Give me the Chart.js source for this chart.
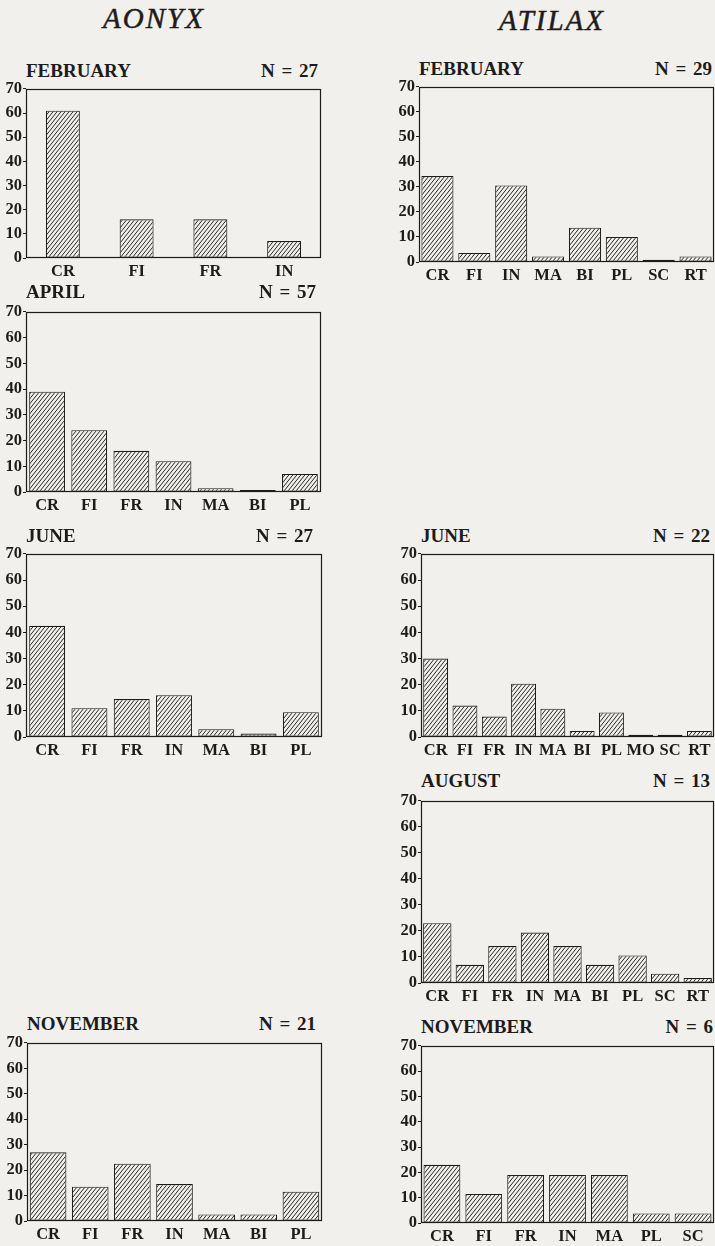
<!DOCTYPE html>
<html>
<head>
<meta charset="utf-8">
<script src="https://cdn.jsdelivr.net/npm/chart.js@4/dist/chart.umd.min.js"></script>
<style>
  html, body { margin: 0; padding: 0; }
  body { width: 715px; height: 1246px; background: #f2f0ec; position: relative; overflow: hidden; }
  .txt { position: absolute; white-space: nowrap; line-height: 1; color: #1d1b1b;
         font-family: "Liberation Serif", "Times New Roman", serif; }
  .genus { -webkit-text-stroke: 0.5px #1d1b1b; }
  canvas { position: absolute; }
</style>
</head>
<body>
<script>
// ---- diet composition (% of items) per month ----
const aonyxFebCategories = ['CR', 'FI', 'FR', 'IN'];
const aonyxFebValues     = [61, 16, 16, 7];

const aonyxAprCategories = ['CR', 'FI', 'FR', 'IN', 'MA', 'BI', 'PL'];
const aonyxAprValues     = [39, 24, 16, 12, 1.5, 0.8, 7];

const aonyxJunCategories = ['CR', 'FI', 'FR', 'IN', 'MA', 'BI', 'PL'];
const aonyxJunValues     = [42.5, 11, 14.5, 16, 3, 1.3, 9.5];

const aonyxNovCategories = ['CR', 'FI', 'FR', 'IN', 'MA', 'BI', 'PL'];
const aonyxNovValues     = [27, 13.5, 22.5, 14.5, 2.6, 2.6, 11.5];

const atilaxFebCategories = ['CR', 'FI', 'IN', 'MA', 'BI', 'PL', 'SC', 'RT'];
const atilaxFebValues     = [34.4, 3.6, 30.6, 2.2, 13.7, 10, 0.9, 2.2];

const atilaxJunCategories = ['CR', 'FI', 'FR', 'IN', 'MA', 'BI', 'PL', 'MO', 'SC', 'RT'];
const atilaxJunValues     = [30, 12, 7.8, 20.4, 10.8, 2.3, 9.4, 0.9, 0.9, 2.3];

const atilaxAugCategories = ['CR', 'FI', 'FR', 'IN', 'MA', 'BI', 'PL', 'SC', 'RT'];
const atilaxAugValues     = [23, 7, 14.2, 19.4, 14.2, 7, 10.6, 3.6, 1.9];

const atilaxNovCategories = ['CR', 'FI', 'FR', 'IN', 'MA', 'PL', 'SC'];
const atilaxNovValues     = [23, 11.5, 19, 19, 19, 3.8, 3.8];

const genusNames = ['AONYX', 'ATILAX'];
const monthNames = ['FEBRUARY', 'APRIL', 'JUNE', 'AUGUST', 'NOVEMBER'];
const sampleSizes = { aonyxFeb: 27, aonyxApr: 57, aonyxJun: 27, aonyxNov: 21,
                      atilaxFeb: 29, atilaxJun: 22, atilaxAug: 13, atilaxNov: 6 };

const yMin = 0, yMax = 70, yStep = 10;

// ---- styling ----
const BG = '#f2f0ec';
const INK = '#1d1b1b';
const SERIF = '"Liberation Serif", "Times New Roman", serif';

// ---- panel placement (plot box edges in page pixels) ----
const panels = [
  { cats: aonyxFebCategories, vals: aonyxFebValues, month: monthNames[0], n: sampleSizes.aonyxFeb,
    L: 26, R: 321, T: 88, B: 258, head: 77, nRight: 318, bar: 0.46 },
  { cats: aonyxAprCategories, vals: aonyxAprValues, month: monthNames[1], n: sampleSizes.aonyxApr,
    L: 26, R: 321, T: 311, B: 492, head: 298, nRight: 316, bar: 0.85 },
  { cats: aonyxJunCategories, vals: aonyxJunValues, month: monthNames[2], n: sampleSizes.aonyxJun,
    L: 26, R: 322, T: 553, B: 737, head: 542, nRight: 313, bar: 0.85 },
  { cats: aonyxNovCategories, vals: aonyxNovValues, month: monthNames[4], n: sampleSizes.aonyxNov,
    L: 27, R: 322, T: 1042, B: 1221, head: 1030, nRight: 316, bar: 0.87 },
  { cats: atilaxFebCategories, vals: atilaxFebValues, month: monthNames[0], n: sampleSizes.atilaxFeb,
    L: 419, R: 714, T: 86, B: 262, head: 75, nRight: 712, bar: 0.87 },
  { cats: atilaxJunCategories, vals: atilaxJunValues, month: monthNames[2], n: sampleSizes.atilaxJun,
    L: 421, R: 714, T: 553, B: 737, head: 542, nRight: 710, bar: 0.85 },
  { cats: atilaxAugCategories, vals: atilaxAugValues, month: monthNames[3], n: sampleSizes.atilaxAug,
    L: 421, R: 714, T: 800, B: 983, head: 787, nRight: 710, bar: 0.87 },
  { cats: atilaxNovCategories, vals: atilaxNovValues, month: monthNames[4], n: sampleSizes.atilaxNov,
    L: 421, R: 714, T: 1045, B: 1223, head: 1033, nRight: 713, bar: 0.88 }
];

// text placed by its baseline
function addText(str, x, baseline, size, opts = {}) {
  const d = document.createElement('div');
  d.className = 'txt' + (opts.cls ? ' ' + opts.cls : '');
  d.textContent = str;
  d.style.fontSize = size + 'px';
  d.style.fontWeight = opts.weight || 'bold';
  if (opts.italic) d.style.fontStyle = 'italic';
  if (opts.spacing) d.style.letterSpacing = opts.spacing + 'px';
  if (opts.wordSpacing) d.style.wordSpacing = opts.wordSpacing + 'px';
  d.style.top = (baseline - 0.8375 * size) + 'px';
  if (opts.align === 'right') {
    d.style.right = (715 - x) + 'px';
  } else if (opts.align === 'center') {
    d.style.left = x + 'px';
    d.style.transform = 'translateX(-50%)';
  } else {
    d.style.left = x + 'px';
  }
  document.body.appendChild(d);
}

addText(genusNames[0], 154, 28, 29, { italic: true, weight: 'normal', spacing: 2, align: 'center', cls: 'genus' });
addText(genusNames[1], 552, 30, 29, { italic: true, weight: 'normal', spacing: 2, align: 'center', cls: 'genus' });

// diagonal hatching used to fill the bars
function makeHatch(ctx) {
  const c = document.createElement('canvas');
  c.width = 4; c.height = 5;
  const g = c.getContext('2d');
  g.fillStyle = BG;
  g.fillRect(0, 0, 4, 5);
  g.strokeStyle = '#262424';
  g.lineWidth = 1;
  g.beginPath();
  g.moveTo(0, 5); g.lineTo(4, 0);
  g.moveTo(-4, 5); g.lineTo(0, 0);
  g.moveTo(4, 5); g.lineTo(8, 0);
  g.stroke();
  return ctx.createPattern(c, 'repeat');
}

// closed box around the plot area
const frameBox = {
  id: 'frameBox',
  afterDraw(chart) {
    const { ctx, chartArea: a } = chart;
    ctx.save();
    ctx.strokeStyle = INK;
    ctx.lineWidth = 1.2;
    ctx.strokeRect(Math.round(a.left) + 0.5, Math.round(a.top) + 0.5,
                   Math.round(a.right - a.left) - 1, Math.round(a.bottom - a.top) - 1);
    ctx.restore();
  }
};

const Y_W = 30, PAD_TOP = 10, X_H = 26;

panels.forEach(p => {
  addText(p.month, p.L, p.head, 19);
  addText('N = ' + p.n, p.nRight, p.head, 19, { align: 'right', wordSpacing: 2 });

  const cv = document.createElement('canvas');
  const w = Y_W + (p.R - p.L) + 1;
  const h = PAD_TOP + (p.B - p.T) + X_H;
  cv.width = w; cv.height = h;
  cv.style.width = w + 'px'; cv.style.height = h + 'px';
  cv.style.left = (p.L - Y_W) + 'px';
  cv.style.top = (p.T - PAD_TOP) + 'px';
  document.body.appendChild(cv);
  const ctx = cv.getContext('2d');

  new Chart(ctx, {
    type: 'bar',
    data: {
      labels: p.cats,
      datasets: [{
        data: p.vals,
        backgroundColor: makeHatch(ctx),
        borderColor: INK,
        borderWidth: 1.1,
        borderSkipped: false,
        categoryPercentage: 1,
        barPercentage: p.bar
      }]
    },
    options: {
      responsive: false,
      animation: false,
      devicePixelRatio: 1,
      layout: { padding: { top: PAD_TOP, right: 1, left: 0, bottom: 0 } },
      plugins: { legend: { display: false }, tooltip: { enabled: false }, title: { display: false } },
      scales: {
        x: {
          grid: { display: false, drawTicks: false },
          border: { display: false },
          ticks: { color: INK, font: { family: SERIF, size: 16.5, weight: 'bold' },
                   padding: 4, autoSkip: false, maxRotation: 0, minRotation: 0 },
          afterFit: s => { s.height = X_H; }
        },
        y: {
          min: yMin, max: yMax,
          grid: { drawOnChartArea: false, drawTicks: true, tickLength: 3, color: INK, lineWidth: 1 },
          border: { display: false },
          ticks: { stepSize: yStep, color: INK, font: { family: SERIF, size: 16.5, weight: 'bold' }, padding: 1 },
          afterFit: s => { s.width = Y_W; }
        }
      }
    },
    plugins: [frameBox]
  });
});
</script>
</body>
</html>
